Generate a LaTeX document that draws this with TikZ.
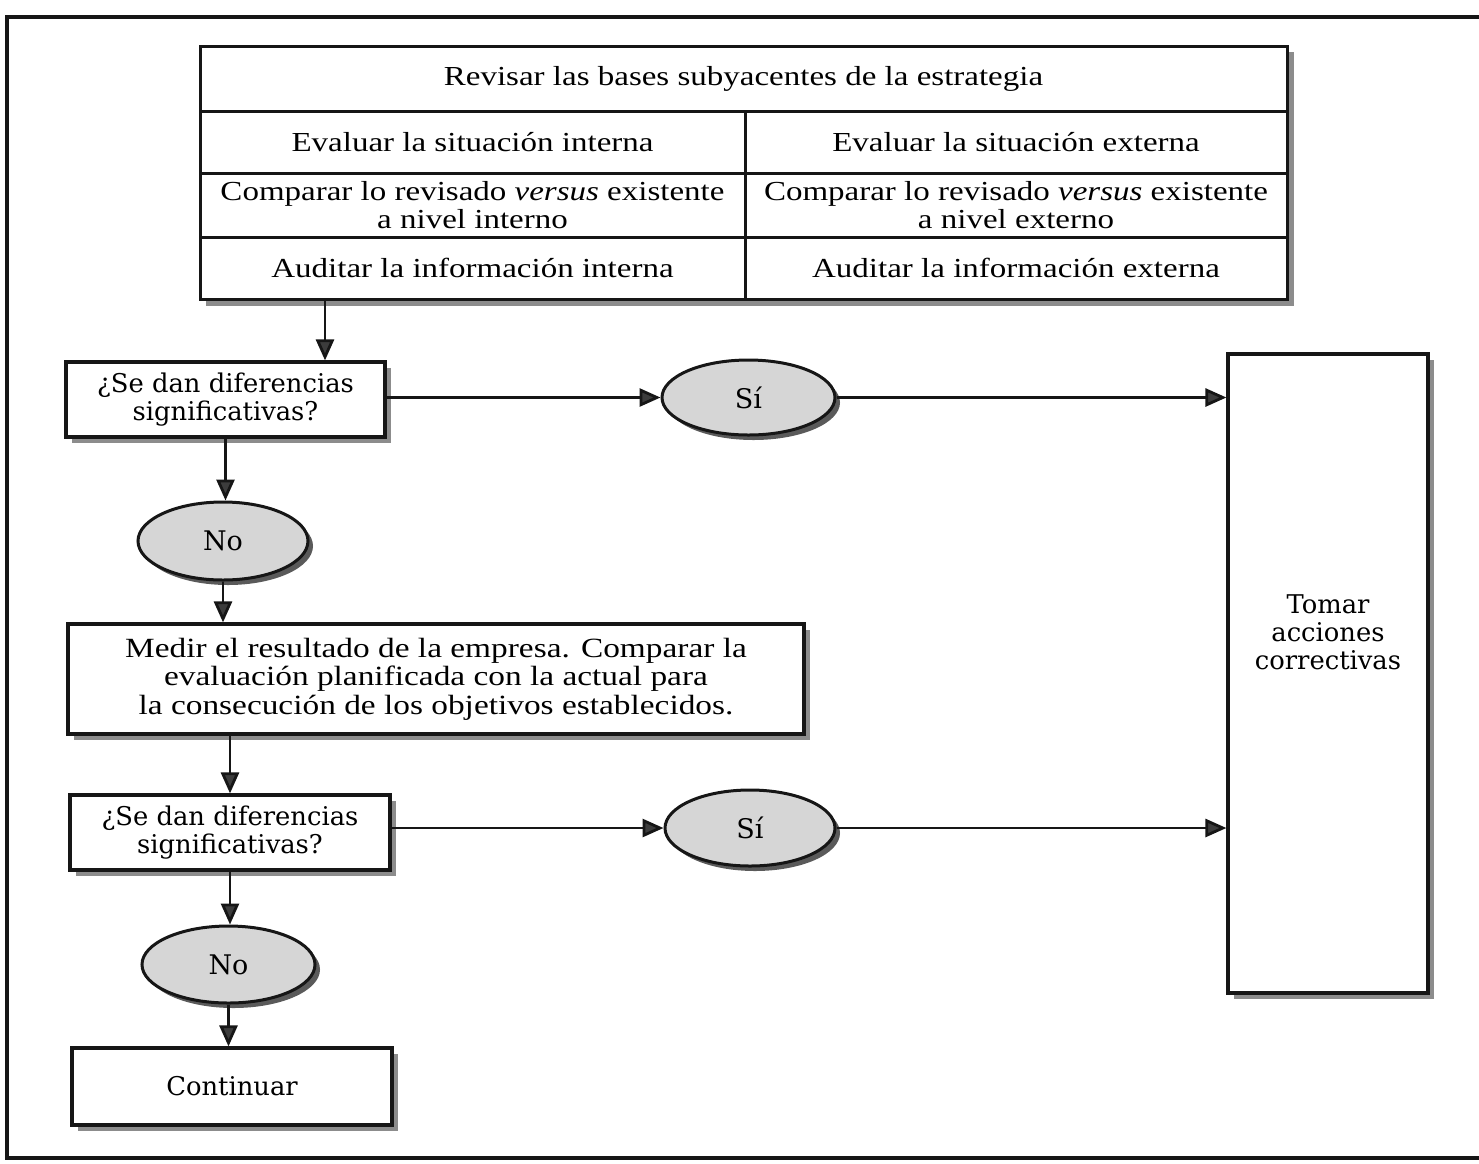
\documentclass[tikz,border=0pt]{standalone}
\usepackage{fontspec}
\setmainfont{Liberation Serif}[FakeStretch=1.2]
\newfontfamily\wideserif{DejaVu Serif}
\usetikzlibrary{arrows.meta,shadows,shapes.geometric}

\definecolor{ink}{HTML}{161616}
\definecolor{tipgray}{HTML}{3C3C3C}
\definecolor{ovalfill}{HTML}{D6D6D6}
\definecolor{boxshade}{HTML}{8C8C8C}
\definecolor{ovalshade}{HTML}{5A5A5A}

\tikzset{
  frame/.style={draw=ink, line width=3.2pt},
  cell/.style={draw=ink, fill=white, line width=3pt, inner sep=2pt,
    align=center, font=\fontsize{27.5}{28}\selectfont},
  flowbox/.style={draw=ink, fill=white, line width=3.2pt, inner sep=2pt,
    align=center, font=\wideserif\fontsize{25.8}{28}\selectfont,
    general shadow={fill=boxshade, shadow xshift=6pt, shadow yshift=-6pt}},
  textbox/.style={flowbox, font=\fontsize{27.8}{28.5}\selectfont},
  oval/.style={ellipse, draw=ink, fill=ovalfill, line width=3pt, inner sep=0pt,
    font=\wideserif\fontsize{27}{28}\selectfont,
    general shadow={fill=ovalshade, shadow xshift=5pt, shadow yshift=-5pt}},
  arr/.style={draw=ink, line width=2.8pt,
    -{Triangle[length=21pt,width=18pt,fill=tipgray]}},
}

\begin{document}
\begin{tikzpicture}[x=1pt,y=-1pt]
\useasboundingbox (0,0) rectangle (1479,1163);

% page frame, open on the right
\draw[frame] (1479,17) -- (7,17) -- (7,1158) -- (1479,1158);

% review table with its shadow
\fill[boxshade] (206,52) rectangle (1294,306);
\node[cell, minimum width=1087pt, minimum height=65pt] (rev) at (743.5,78.5)
  {Revisar las bases subyacentes de la estrategia};
\node[cell, minimum width=545pt, minimum height=62pt] (evI) at (472.5,142)
  {Evaluar la situación interna};
\node[cell, minimum width=542pt, minimum height=62pt] (evE) at (1016,142)
  {Evaluar la situación externa};
\node[cell, minimum width=545pt, minimum height=64pt] (cmI) at (472.5,205)
  {Comparar lo revisado \textit{versus} existente\\a nivel interno};
\node[cell, minimum width=542pt, minimum height=64pt] (cmE) at (1016,205)
  {Comparar lo revisado \textit{versus} existente\\a nivel externo};
\node[cell, minimum width=545pt, minimum height=62pt] (auI) at (472.5,268)
  {Auditar la información interna};
\node[cell, minimum width=542pt, minimum height=62pt] (auE) at (1016,268)
  {Auditar la información externa};

% flow nodes
\node[flowbox, minimum width=319pt, minimum height=75pt] (q1) at (225.5,399.5)
  {¿Se dan diferencias\\significativas?};
\node[oval, minimum width=173pt, minimum height=75pt] (si1) at (748.5,397.5) {Sí};
\node[flowbox, minimum width=200pt, minimum height=639pt] (act) at (1328,673.5)
  {\raisebox{112pt}{\begin{tabular}{@{}c@{}}Tomar\\acciones\\correctivas\end{tabular}}};
\node[oval, minimum width=170pt, minimum height=78pt] (no1) at (223,541) {No};
\node[textbox, minimum width=736pt, minimum height=110pt] (med) at (436,679)
  {Medir el resultado de la empresa. Comparar la\\
   evaluación planificada con la actual para\\
   la consecución de los objetivos establecidos.};
\node[flowbox, minimum width=320pt, minimum height=75pt] (q2) at (230,832.5)
  {¿Se dan diferencias\\significativas?};
\node[oval, minimum width=170pt, minimum height=76pt] (si2) at (750,828) {Sí};
\node[oval, minimum width=173pt, minimum height=77pt] (no2) at (228.5,964.5) {No};
\node[flowbox, minimum width=320pt, minimum height=77pt] (cont) at (232,1086.5)
  {Continuar};

% connectors
\coordinate (dropx) at (325,0);
\draw[arr] (auI.south -| dropx) -- (q1.north -| dropx);
\draw[arr] (q1.east |- si1) -- (si1.west);
\draw[arr] (si1.east) -- (si1.east -| act.west);
\draw[arr] (q1.south) -- (q1.south |- no1.north);
\draw[arr] (no1.south) -- (no1.south |- med.north);
\draw[arr] (q2.north |- med.south) -- (q2.north);
\draw[arr] (q2.east |- si2) -- (si2.west);
\draw[arr] (si2.east) -- (si2.east -| act.west);
\draw[arr] (q2.south) -- (q2.south |- no2.north);
\draw[arr] (no2.south) -- (no2.south |- cont.north);
\end{tikzpicture}
\end{document}
